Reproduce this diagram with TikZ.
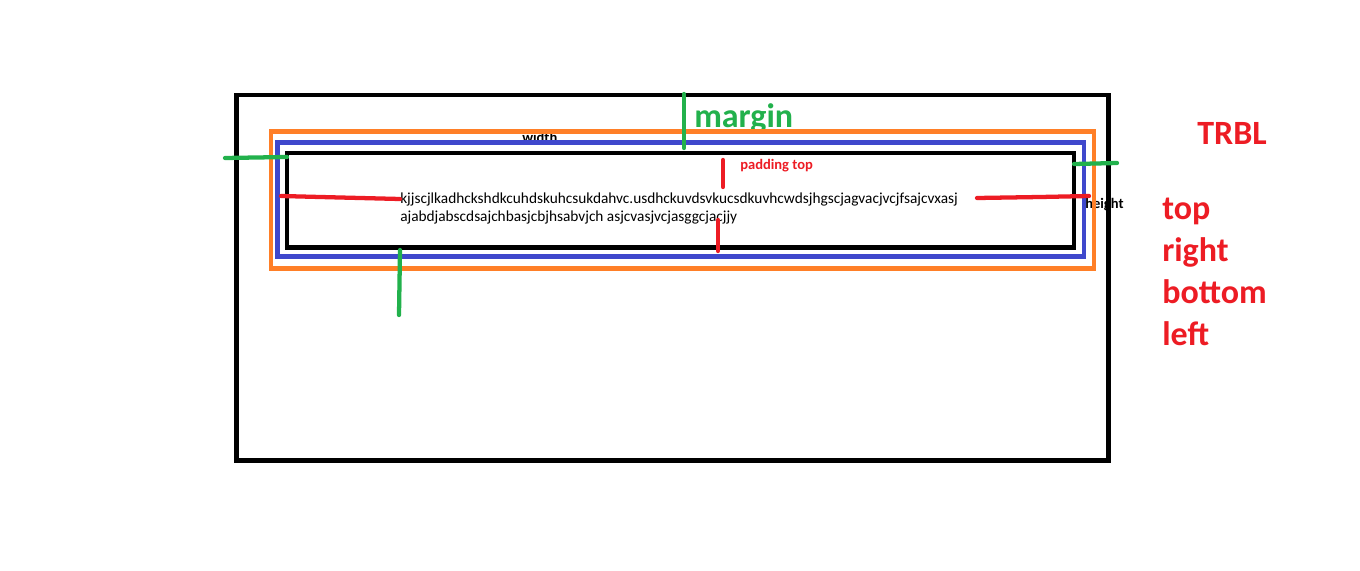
\documentclass[tikz,border=0pt]{standalone}
\usepackage{fontspec}
\setmainfont{Carlito}
\usepackage{tikz}

\begin{document}
\begin{tikzpicture}[x=0.75pt, y=-0.75pt]

\definecolor{paintred}{HTML}{ED1C24}
\definecolor{paintgreen}{HTML}{22B14C}
\definecolor{paintorange}{HTML}{FF7F27}
\definecolor{paintblue}{HTML}{3F48CC}

\tikzset{
  boxline/.style={line width=3.4pt},
  brushgreen/.style={draw=paintgreen, line width=3.2pt, line cap=round},
  brushred/.style={draw=paintred, line width=3.2pt, line cap=round},
  bigword/.style={inner sep=0pt, anchor=base west, font=\fontsize{25.5}{30}\bfseries\selectfont},
  smallword/.style={inner sep=0pt, anchor=base west, font=\fontsize{10.9}{13}\bfseries\selectfont},
  bodyline/.style={inner sep=0pt, anchor=base west, font=\fontsize{11.5}{13.8}\selectfont}
}

\useasboundingbox[fill=white] (0,0) rectangle (1360,571);

% Labels that the boxes partly cover.
\node[bigword, text=paintgreen] (margintext) at (694,127) {margin};
\node[smallword] (widthtext) at (522,142) {width};
\node[smallword] (heighttext) at (1085,208) {height};
\node[smallword, text=paintred] (paddingtext) at (740,169) {padding top};

% Content.
\node[bodyline] (bodyone) at (400,203)
  {kjjscjlkadhckshdkcuhdskuhcsukdahvc.usdhckuvdsvkucsdkuvhcwdsjhgscjagvacjvcjfsajcvxasj};
\node[bodyline] (bodytwo) at (400,221)
  {ajabdjabscdsajchbasjcbjhsabvjch asjcvasjvcjasggcjacjjy};

% Parent, margin, border and padding edges.
\draw[boxline] (236.5,95) rectangle (1108.5,460.5);
\draw[boxline, paintorange] (271,131.5) rectangle (1094,268.5);
\draw[boxline, paintblue] (277.5,142.5) rectangle (1084,256.7);
\draw[boxline] (287,153) rectangle (1074,247.5);

% Margin strokes.
\draw[brushgreen] (684,94) -- (684,148);
\draw[brushgreen] (225,158) -- (287,157);
\draw[brushgreen] (400,250) -- (399,315);
\draw[brushgreen] (1074,164) -- (1117,163);

% Padding strokes.
\draw[brushred] (281,196) -- (340,197.5) -- (400,199);
\draw[brushred] (977,198) -- (1040,197) -- (1089,196);
\draw[brushred] (723,160) -- (723,187);
\draw[brushred] (718,220) -- (718,251);

% Shorthand order.
\node[bigword, text=paintred] (trbl) at (1197,144) {TRBL};
\foreach \side/\y in {top/219, right/261, bottom/303, left/345}
  \node[bigword, text=paintred] (side-\side) at (1162,\y) {\side};

\end{tikzpicture}
\end{document}
